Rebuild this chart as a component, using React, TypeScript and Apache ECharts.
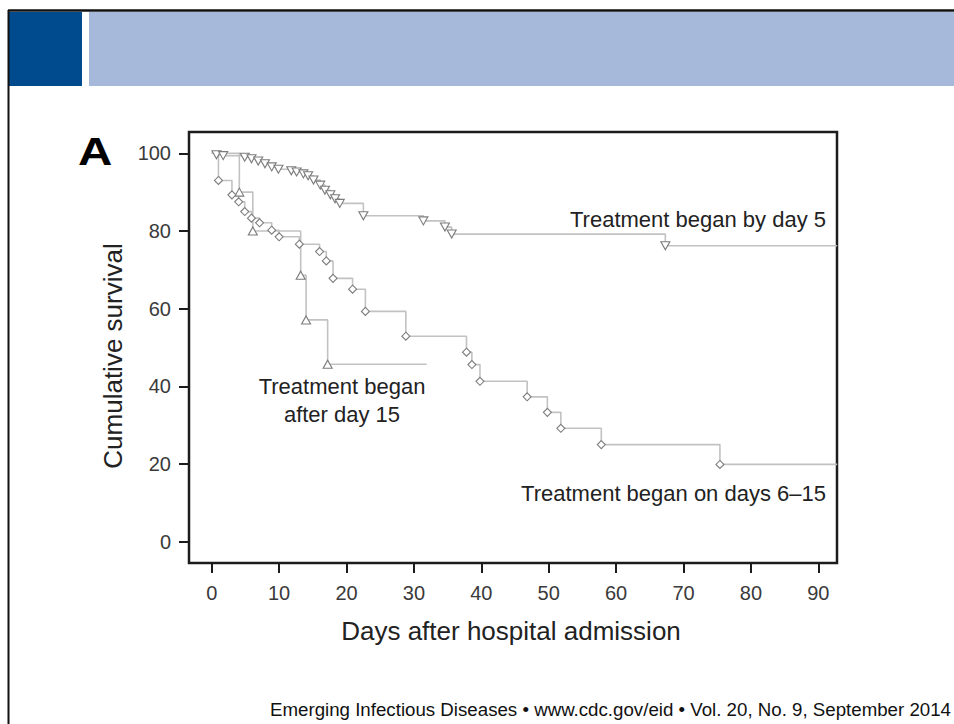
import React, { useEffect, useRef } from "react";
import * as echarts from "echarts";

// ---- data ----
const xTickValues = [0, 10, 20, 30, 40, 50, 60, 70, 80, 90];
const yTickValues = [0, 20, 40, 60, 80, 100];

// [day, cumulative survival %] at each marked step
const byDay5Events: [number, number][] = [
  [0.7, 99.6], [1.7, 99.4], [4.9, 99.0], [5.9, 98.6], [6.9, 98.0], [7.9, 97.3],
  [8.9, 96.5], [9.9, 95.9], [11.8, 95.5], [12.6, 95.2], [13.6, 94.7], [14.3, 94.2],
  [15.1, 93.1], [16.1, 91.8], [16.8, 90.5], [17.6, 89.3], [18.3, 88.3], [19.0, 87.1],
  [22.5, 83.9], [31.4, 82.6], [34.6, 81.0], [35.6, 79.2], [67.3, 76.2],
];
const byDay5End = 92.8;

const days6to15Events: [number, number][] = [
  [1.0, 93.0], [3.0, 89.3], [4.0, 87.5], [4.9, 85.0], [5.9, 83.3], [7.1, 82.1],
  [8.9, 80.2], [10.0, 78.5], [13.0, 76.6], [16.0, 74.7], [17.0, 72.3], [18.0, 67.8],
  [20.9, 65.0], [22.8, 59.3], [28.8, 52.9], [37.8, 48.8], [38.6, 45.6], [39.8, 41.3],
  [46.8, 37.3], [49.8, 33.3], [51.8, 29.2], [57.8, 25.0], [75.4, 19.9],
];
const days6to15End = 92.8;

const after15Events: [number, number][] = [
  [4.1, 90.0], [6.1, 80.0], [13.2, 68.6], [14.0, 57.1], [17.2, 45.7],
];
const after15End = 31.9;

const FONT = "'Liberation Sans', Arial, Helvetica, sans-serif";

function buildData(events: [number, number][], end: number) {
  const last = events[events.length - 1][1];
  return [
    { value: [0, 100], symbol: "none" },
    ...events.map((p) => ({ value: p })),
    { value: [end, last], symbol: "none" },
  ];
}

function kmSeries(
  name: string,
  events: [number, number][],
  end: number,
  symbol: string,
  rotate: number,
  size: number | number[]
) {
  return {
    name,
    type: "line",
    step: "end",
    data: buildData(events, end),
    showAllSymbol: true,
    symbol,
    symbolRotate: rotate,
    symbolSize: size,
    lineStyle: { color: "#c2c2c2", width: 1.6 },
    itemStyle: { color: "#ffffff", borderColor: "#7c7c7c", borderWidth: 1.1 },
    emphasis: { disabled: true },
    z: 3,
  };
}

export default function App() {
  const ref = useRef<HTMLDivElement>(null);

  useEffect(() => {
    if (!ref.current) return;
    const chart = echarts.init(ref.current, undefined, { renderer: "svg" });

    const option = {
      animation: false,
      backgroundColor: "#ffffff",
      grid: {
        left: 189,
        right: 117,
        top: 132,
        bottom: 161,
        show: true,
        borderColor: "#1c1c1c",
        borderWidth: 2.5,
        backgroundColor: "transparent",
      },
      xAxis: {
        type: "value",
        min: -3.37,
        max: 92.77,
        axisLine: { show: false, onZero: false },
        axisTick: {
          show: true,
          customValues: xTickValues,
          length: 10,
          inside: false,
          lineStyle: { color: "#1c1c1c", width: 2 },
        },
        axisLabel: {
          customValues: xTickValues,
          fontSize: 20,
          fontFamily: FONT,
          color: "#3a3a3a",
          margin: 20,
        },
        splitLine: { show: false },
      },
      yAxis: {
        type: "value",
        min: -5.48,
        max: 105.48,
        axisLine: { show: false, onZero: false },
        axisTick: {
          show: true,
          customValues: yTickValues,
          length: 10,
          inside: false,
          lineStyle: { color: "#1c1c1c", width: 2 },
        },
        axisLabel: {
          customValues: yTickValues,
          fontSize: 20,
          fontFamily: FONT,
          color: "#3a3a3a",
          margin: 18,
        },
        splitLine: { show: false },
      },
      series: [
        kmSeries("Treatment began after day 15", after15Events, after15End, "triangle", 0, [9, 8]),
        kmSeries("Treatment began on days 6–15", days6to15Events, days6to15End, "diamond", 0, [8, 8]),
        kmSeries("Treatment began by day 5", byDay5Events, byDay5End, "triangle", 180, [9, 8]),
      ],
      graphic: [
        // slide header
        { type: "rect", shape: { x: 89, y: 12, width: 865, height: 74 }, style: { fill: "#a6b9db" }, silent: true },
        { type: "rect", shape: { x: 9, y: 12, width: 73, height: 74 }, style: { fill: "#004b8e" }, silent: true },
        { type: "line", shape: { x1: 8, y1: 10.5, x2: 954, y2: 10.5 }, style: { stroke: "#111", lineWidth: 2.5 }, silent: true },
        { type: "line", shape: { x1: 8.5, y1: 10, x2: 8.5, y2: 724 }, style: { stroke: "#111", lineWidth: 2 }, silent: true },
        // panel letter
        {
          type: "text",
          x: 78,
          y: 152,
          scaleX: 1.25,
          style: {
            text: "A",
            fontSize: 38,
            fontWeight: "bold",
            fontFamily: FONT,
            fill: "#000",
            align: "left",
            verticalAlign: "middle",
          },
        },
        // axis titles
        {
          type: "text",
          x: 112.5,
          y: 356,
          rotation: Math.PI / 2,
          style: {
            text: "Cumulative survival",
            fontSize: 26,
            fontFamily: FONT,
            fill: "#222",
            align: "center",
            verticalAlign: "middle",
          },
        },
        {
          type: "text",
          x: 511,
          y: 631,
          style: {
            text: "Days after hospital admission",
            fontSize: 26,
            fontFamily: FONT,
            fill: "#222",
            align: "center",
            verticalAlign: "middle",
          },
        },
        // curve labels
        {
          type: "text",
          x: 826,
          y: 219,
          style: { text: "Treatment began by day 5", fontSize: 22, fontFamily: FONT, fill: "#222", align: "right", verticalAlign: "middle" },
        },
        {
          type: "text",
          x: 342,
          y: 386,
          style: { text: "Treatment began", fontSize: 22, fontFamily: FONT, fill: "#222", align: "center", verticalAlign: "middle" },
        },
        {
          type: "text",
          x: 342,
          y: 414,
          style: { text: "after day 15", fontSize: 22, fontFamily: FONT, fill: "#222", align: "center", verticalAlign: "middle" },
        },
        {
          type: "text",
          x: 826,
          y: 493,
          style: { text: "Treatment began on days 6–15", fontSize: 22, fontFamily: FONT, fill: "#222", align: "right", verticalAlign: "middle" },
        },
        // footer
        {
          type: "text",
          x: 951,
          y: 709,
          style: {
            text: "Emerging Infectious Diseases • www.cdc.gov/eid • Vol. 20, No. 9, September 2014",
            fontSize: 18.7,
            fontFamily: FONT,
            fill: "#111",
            align: "right",
            verticalAlign: "middle",
          },
        },
      ],
    };

    chart.setOption(option as any);
    return () => {
      chart.dispose();
    };
  }, []);

  return (
    <div
      ref={ref}
      style={{ position: "absolute", left: 0, top: 0, width: 954, height: 724, background: "#fff" }}
    />
  );
}
